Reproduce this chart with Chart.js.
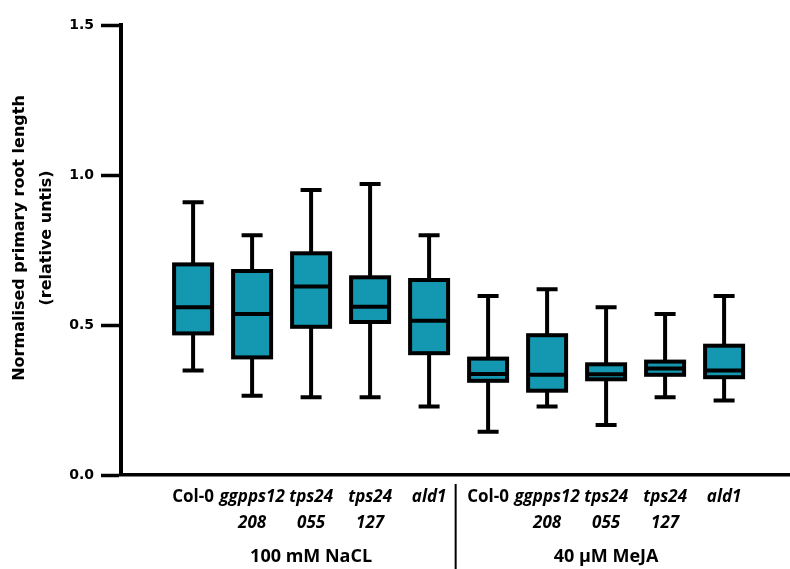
<!DOCTYPE html>
<html>
<head>
<meta charset="utf-8">
<script src="https://cdn.jsdelivr.net/npm/chart.js@4.4.1/dist/chart.umd.min.js"></script>
<style>
  html, body { margin: 0; padding: 0; background: #fff; }
  #wrap { width: 790px; height: 569px; }
</style>
</head>
<body>
<div id="wrap"><canvas id="chart" width="790" height="569"></canvas></div>
<script>
// genotypes per treatment group (arrays = two-line labels)
const genotypes = ['Col-0', ['ggpps12', '208'], ['tps24', '055'], ['tps24', '127'], 'ald1'];
const groups = ['100 mM NaCL', '40 \u00b5M MeJA'];
const categories = groups.flatMap(() => genotypes);
const positions = categories.map((_, i) => i + 1);

// box plot values
const whiskerMax = [0.909, 0.799, 0.950, 0.970, 0.799, 0.597, 0.619, 0.559, 0.537, 0.597];
const q3         = [0.702, 0.680, 0.739, 0.659, 0.650, 0.388, 0.466, 0.369, 0.378, 0.431];
const median     = [0.559, 0.537, 0.628, 0.561, 0.514, 0.337, 0.334, 0.336, 0.355, 0.348];
const q1         = [0.472, 0.392, 0.494, 0.510, 0.406, 0.314, 0.281, 0.319, 0.334, 0.326];
const whiskerMin = [0.348, 0.264, 0.259, 0.259, 0.228, 0.144, 0.228, 0.167, 0.259, 0.248];

const yTicks = [0, 0.5, 1.0, 1.5];

const TEAL = '#1497b0';
const INK = '#000';

// whiskers, box outline and median line on top of the floating bars
const boxPlotPlugin = {
  id: 'boxPlot',
  afterDatasetsDraw(chart) {
    const { ctx } = chart;
    const y = chart.scales.y;
    const meta = chart.getDatasetMeta(0);
    ctx.save();
    ctx.strokeStyle = INK;
    ctx.lineWidth = 4;
    ctx.lineCap = 'butt';
    meta.data.forEach((bar, i) => {
      const cx = bar.x;
      const half = bar.width / 2;
      const yMax = y.getPixelForValue(whiskerMax[i]);
      const yQ3 = y.getPixelForValue(q3[i]);
      const yMed = y.getPixelForValue(median[i]);
      const yQ1 = y.getPixelForValue(q1[i]);
      const yMin = y.getPixelForValue(whiskerMin[i]);
      const cap = 10.5;

      ctx.beginPath();
      ctx.moveTo(cx, yQ3); ctx.lineTo(cx, yMax);
      ctx.moveTo(cx - cap, yMax); ctx.lineTo(cx + cap, yMax);
      ctx.moveTo(cx, yQ1); ctx.lineTo(cx, yMin);
      ctx.moveTo(cx - cap, yMin); ctx.lineTo(cx + cap, yMin);
      ctx.stroke();

      ctx.lineJoin = 'miter';
      ctx.strokeRect(cx - half, yQ3, half * 2, yQ1 - yQ3);

      ctx.beginPath();
      ctx.moveTo(cx - half, yMed); ctx.lineTo(cx + half, yMed);
      ctx.stroke();
    });
    ctx.restore();
  }
};

// axis title, group separator and treatment labels
const annotatePlugin = {
  id: 'annotate',
  afterDraw(chart) {
    const { ctx } = chart;
    const x = chart.scales.x;
    ctx.save();
    ctx.fillStyle = INK;

    ctx.translate(0, 238);
    ctx.rotate(-Math.PI / 2);
    ctx.font = 'bold 16px "DejaVu Sans"';
    ctx.textAlign = 'center';
    ctx.textBaseline = 'middle';
    ctx.fillText('Normalised primary root length', 0, 20);
    ctx.fillText('(relative untis)', 0, 47);
    ctx.setTransform(1, 0, 0, 1, 0, 0);

    const sep = x.getPixelForValue(genotypes.length + 0.45);
    ctx.strokeStyle = INK;
    ctx.lineWidth = 2;
    ctx.beginPath();
    ctx.moveTo(sep, 484);
    ctx.lineTo(sep, chart.height);
    ctx.stroke();

    ctx.font = 'bold 18px "Open Sans"';
    ctx.textAlign = 'center';
    ctx.textBaseline = 'middle';
    groups.forEach((g, gi) => {
      const mid = gi * genotypes.length + (genotypes.length + 1) / 2;
      ctx.fillText(g, x.getPixelForValue(mid), 557);
    });
    ctx.restore();
  }
};

new Chart(document.getElementById('chart'), {
  type: 'bar',
  data: {
    labels: categories,
    datasets: [{
      data: positions.map((p, i) => ({ x: p, y: [q1[i], q3[i]] })),
      backgroundColor: TEAL,
      borderWidth: 0,
      barThickness: 38
    }]
  },
  options: {
    responsive: false,
    animation: false,
    events: [],
    layout: { padding: { top: 25, left: 0, right: 0, bottom: 0 } },
    plugins: { legend: { display: false }, tooltip: { enabled: false } },
    scales: {
      x: {
        type: 'linear',
        min: 0.345,
        max: 10.55,
        afterBuildTicks: scale => { scale.ticks = positions.map(v => ({ value: v })); },
        afterFit: scale => { scale.height = 94; },
        grid: { display: false, drawTicks: false },
        border: { display: true, color: INK, width: 3.5 },
        ticks: {
          autoSkip: false,
          maxRotation: 0,
          padding: 9,
          color: INK,
          callback: (v) => categories[Math.round(v) - 1],
          font: ctx => ({
            family: '"Open Sans"',
            size: 17,
            weight: 'bold',
            lineHeight: 1.55,
            style: categories[ctx.index] === 'Col-0' ? 'normal' : 'italic'
          })
        }
      },
      y: {
        min: 0,
        max: 1.5,
        afterBuildTicks: scale => { scale.ticks = yTicks.map(v => ({ value: v })); },
        afterFit: scale => { scale.width = 121; },
        grid: {
          display: true,
          drawOnChartArea: false,
          drawTicks: true,
          tickLength: 20,
          tickWidth: 3.5,
          tickColor: INK
        },
        border: { display: true, color: INK, width: 4 },
        ticks: {
          padding: 7,
          color: INK,
          font: { family: '"DejaVu Sans"', size: 14, weight: 'bold' },
          callback: v => v.toFixed(1)
        }
      }
    }
  },
  plugins: [boxPlotPlugin, annotatePlugin]
});
</script>
</body>
</html>
